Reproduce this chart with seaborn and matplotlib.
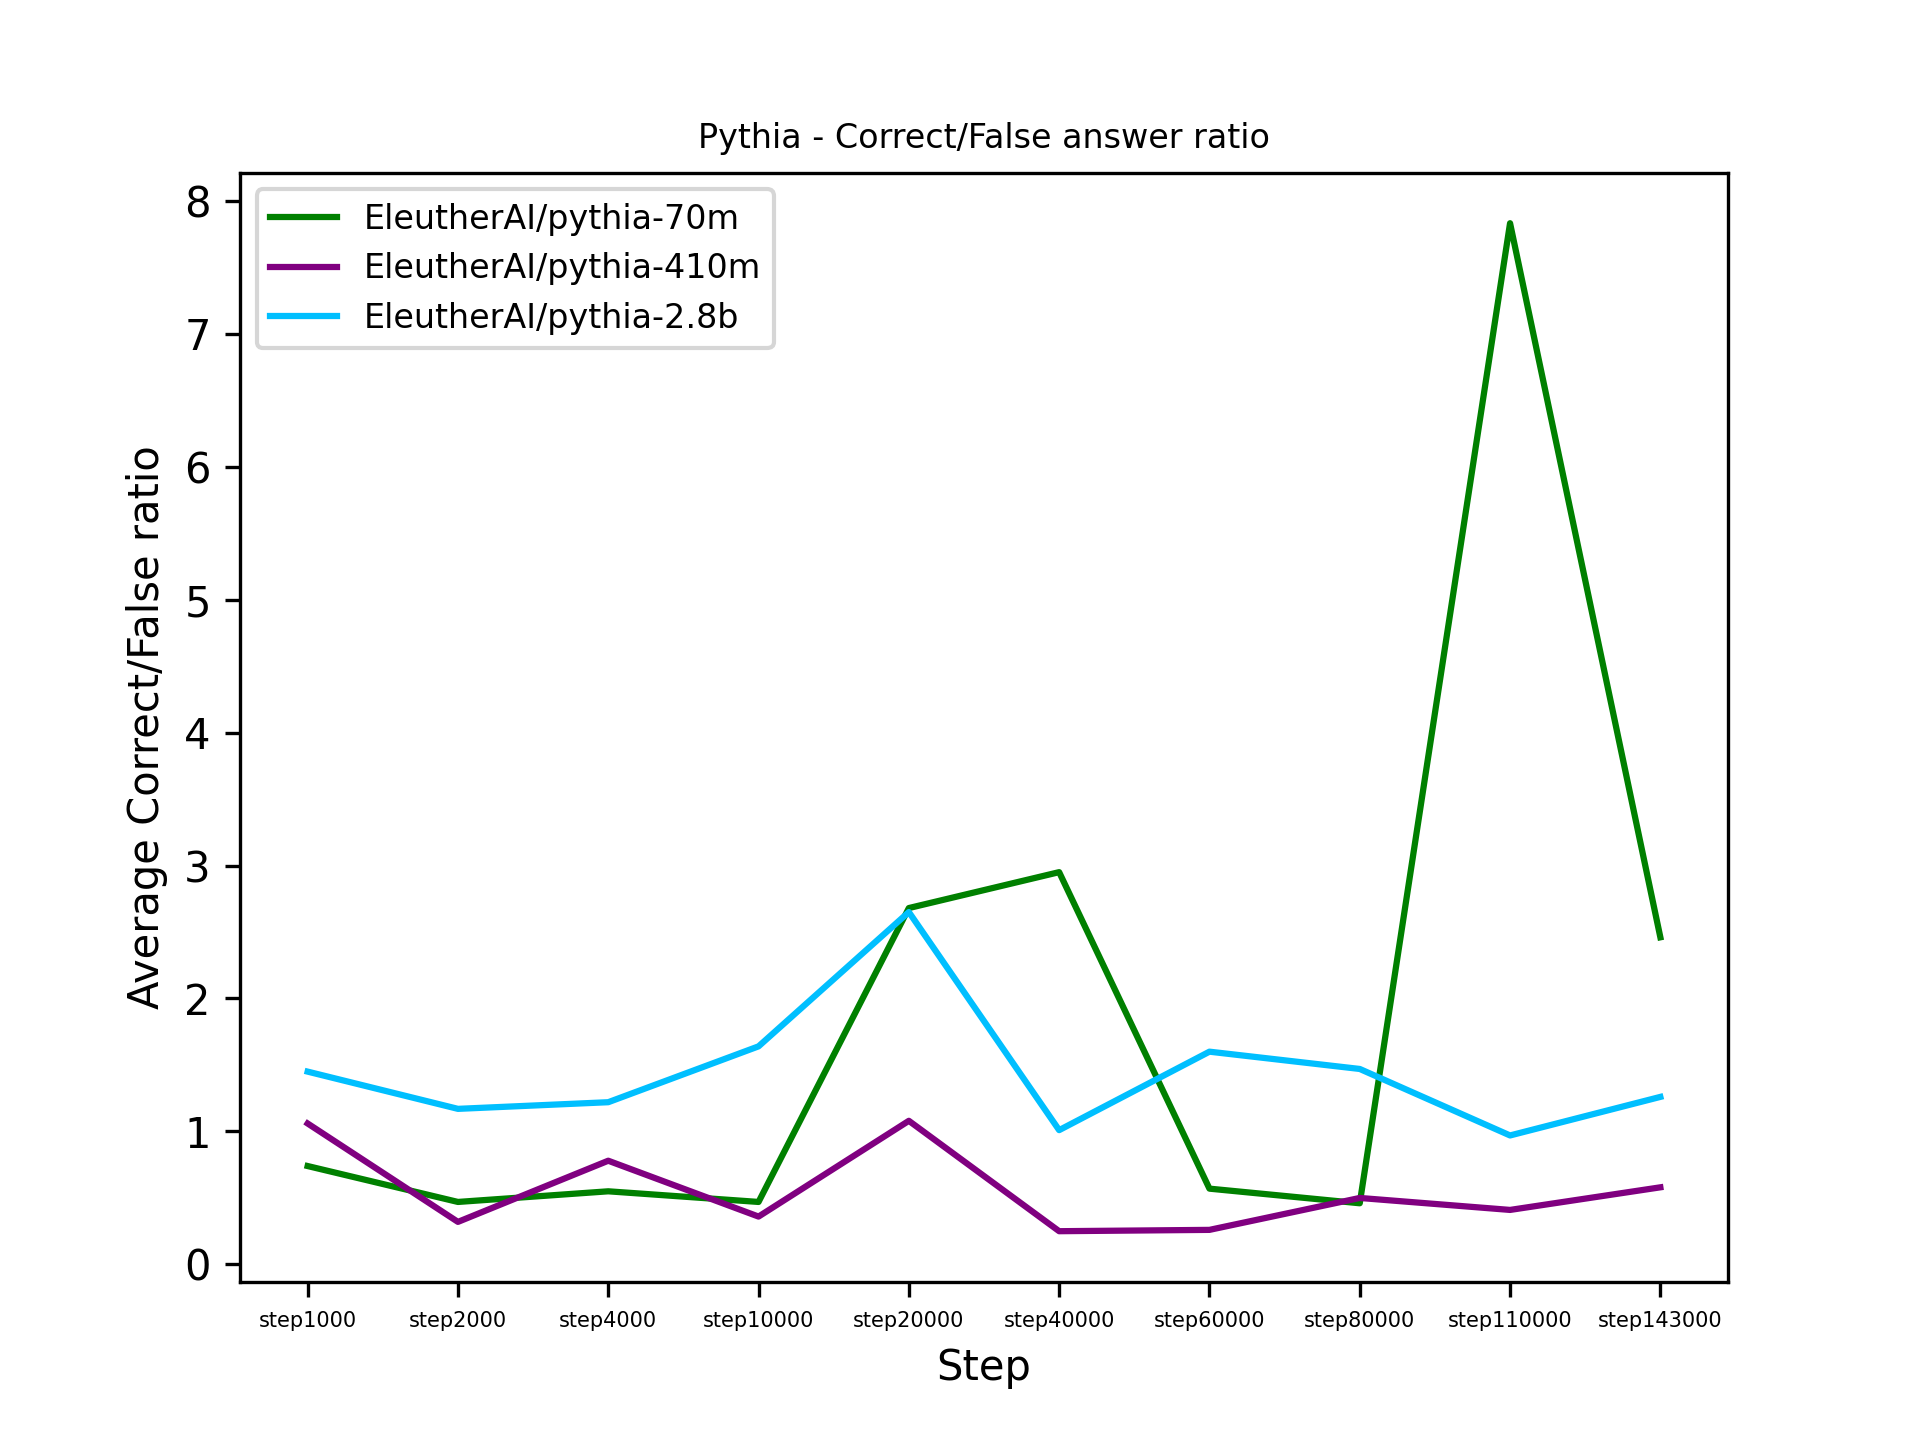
import pandas as pd
import seaborn as sns
import matplotlib.pyplot as plt

# checkpoints on the x axis
steps = ['step1000', 'step2000', 'step4000', 'step10000', 'step20000',
         'step40000', 'step60000', 'step80000', 'step110000', 'step143000']

models = ['EleutherAI/pythia-70m', 'EleutherAI/pythia-410m', 'EleutherAI/pythia-2.8b']
colors = ['green', 'purple', 'deepskyblue']

ratio_70m = [0.74, 0.47, 0.55, 0.47, 2.68, 2.95, 0.57, 0.46, 7.83, 2.46]
ratio_410m = [1.06, 0.32, 0.78, 0.36, 1.08, 0.25, 0.26, 0.50, 0.41, 0.58]
ratio_2_8b = [1.45, 1.17, 1.22, 1.64, 2.65, 1.01, 1.60, 1.47, 0.97, 1.26]

# long format for seaborn
df = pd.concat([
    pd.DataFrame({'step': steps, 'ratio': vals, 'model': m})
    for m, vals in zip(models, [ratio_70m, ratio_410m, ratio_2_8b])
])

fig, ax = plt.subplots(figsize=(6.4, 4.8), dpi=300)
sns.lineplot(data=df, x='step', y='ratio', hue='model', hue_order=models,
             palette=colors, linewidth=1.5, ax=ax, sort=False)

ax.set_title('Pythia - Correct/False answer ratio', fontsize=8)
ax.set_xlabel('Step', fontsize=10)
ax.set_ylabel('Average Correct/False ratio', fontsize=10)
ax.tick_params(axis='x', labelsize=5)
ax.tick_params(axis='y', labelsize=10)
sns.move_legend(ax, 'upper left', title=None, fontsize=8)

plt.savefig('out.png', dpi=300)
